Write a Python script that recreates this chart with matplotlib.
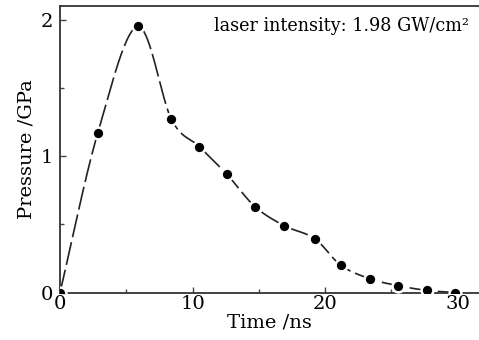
import numpy as np
import matplotlib
matplotlib.use("Agg")
import matplotlib.pyplot as plt

# measured points (time in ns, pressure in GPa)
time_ns = [0.0, 2.85, 5.85, 8.4, 10.5, 12.6, 14.7, 16.9, 19.2, 21.2, 23.4, 25.5, 27.7, 29.8]
pressure = [0.0, 1.17, 1.95, 1.27, 1.07, 0.865, 0.63, 0.49, 0.395, 0.198, 0.10, 0.05, 0.015, 0.0]

xticks = [0, 10, 20, 30]
yticks = [0, 1, 2]
note = "laser intensity: 1.98 GW/cm\u00b2"


def catmull_rom(x, y, n=30):
    # smooth curve through the points, for drawing only
    x = np.asarray(x, float)
    y = np.asarray(y, float)
    px = np.concatenate([[2 * x[0] - x[1]], x, [2 * x[-1] - x[-2]]])
    py = np.concatenate([[2 * y[0] - y[1]], y, [2 * y[-1] - y[-2]]])
    xs, ys = [], []
    t = np.linspace(0, 1, n)
    for i in range(1, len(px) - 2):
        for p, out in ((px, xs), (py, ys)):
            p0, p1, p2, p3 = p[i - 1], p[i], p[i + 1], p[i + 2]
            out.append(0.5 * (2 * p1 + (-p0 + p2) * t
                              + (2 * p0 - 5 * p1 + 4 * p2 - p3) * t ** 2
                              + (-p0 + 3 * p1 - 3 * p2 + p3) * t ** 3))
    return np.concatenate(xs), np.concatenate(ys)


plt.rcParams["font.family"] = ["DejaVu Serif"]

fig = plt.figure(figsize=(4.79, 3.40), dpi=100)
ax = fig.add_axes([60 / 479, 47.5 / 340, 419 / 479, 286.5 / 340])

cx, cy = catmull_rom(time_ns, pressure)
ax.plot(cx, cy, color="#222222", lw=1.2, dashes=(14, 3), zorder=2)
ax.plot(time_ns, pressure, "o", color="black", ms=8.5, mec="white", mew=1.8, zorder=3)

ax.set_xlim(0, 31.6)
ax.set_ylim(0, 2.1)
ax.set_xticks(xticks)
ax.set_yticks(yticks)
ax.set_xticks([5, 15, 25], minor=True)
ax.set_yticks([0.5, 1.5], minor=True)
ax.tick_params(which="both", direction="in", color="#444444", labelsize=14)
ax.tick_params(axis="x", pad=2)
ax.tick_params(axis="y", pad=5)
ax.tick_params(which="major", length=4, width=1)
ax.tick_params(which="minor", length=3, width=1)

ax.spines["right"].set_visible(False)
for s in ("left", "top", "bottom"):
    ax.spines[s].set_linewidth(1.3)
    ax.spines[s].set_color("#333333")

ax.set_xlabel("Time /ns", fontsize=14, labelpad=0)
ax.set_ylabel("Pressure /GPa", fontsize=14, labelpad=4)
ax.text(0.975, 0.93, note, transform=ax.transAxes, ha="right", va="center", fontsize=12.7)

fig.savefig("out.png", dpi=100)
